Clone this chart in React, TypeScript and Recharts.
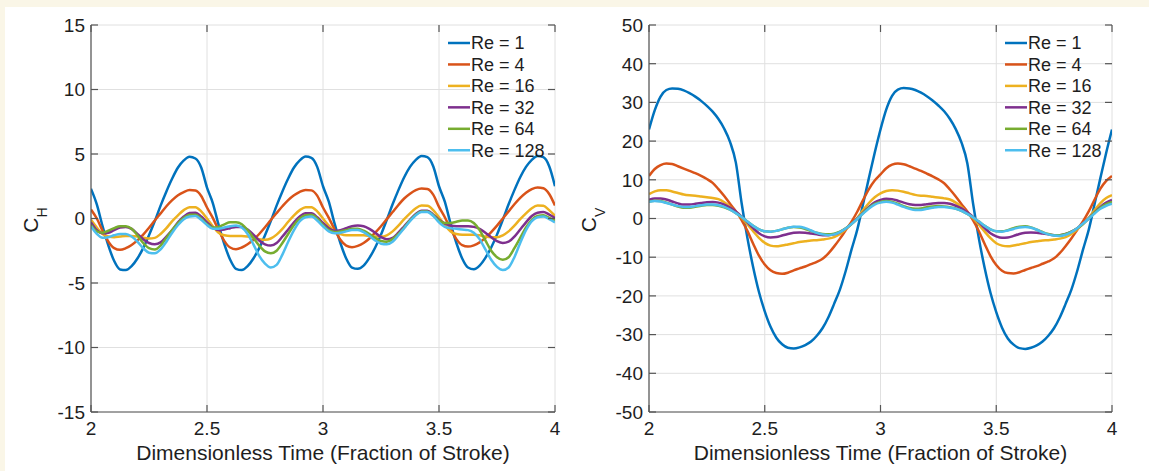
import React from 'react';
import { LineChart, Line, XAxis, YAxis, CartesianGrid } from 'recharts';

// time samples (fraction of stroke), step 0.025
const timeValues = [
  2, 2.025, 2.05, 2.075, 2.1, 2.125, 2.15, 2.175, 2.2, 2.225, 2.25, 2.275, 2.3, 2.325, 2.35, 2.375, 2.4, 2.425, 2.45, 2.475,
  2.5, 2.525, 2.55, 2.575, 2.6, 2.625, 2.65, 2.675, 2.7, 2.725, 2.75, 2.775, 2.8, 2.825, 2.85, 2.875, 2.9, 2.925, 2.95, 2.975,
  3, 3.025, 3.05, 3.075, 3.1, 3.125, 3.15, 3.175, 3.2, 3.225, 3.25, 3.275, 3.3, 3.325, 3.35, 3.375, 3.4, 3.425, 3.45, 3.475,
  3.5, 3.525, 3.55, 3.575, 3.6, 3.625, 3.65, 3.675, 3.7, 3.725, 3.75, 3.775, 3.8, 3.825, 3.85, 3.875, 3.9, 3.925, 3.95, 3.975,
  4,
];

const reLabels = ['Re = 1', 'Re = 4', 'Re = 16', 'Re = 32', 'Re = 64', 'Re = 128'];
const reColors = ['#0072BD', '#D95319', '#EDB120', '#7E2F8E', '#77AC30', '#4DBEEE'];

const timeTicks = [2, 2.5, 3, 3.5, 4];
const chTicks = [-15, -10, -5, 0, 5, 10, 15];
const cvTicks = [-50, -40, -30, -20, -10, 0, 10, 20, 30, 40, 50];

// horizontal force coefficient C_H
const chRe1 = [
  2.3, 1.1, -0.6, -2.1, -3.3, -3.95, -4.0, -3.7, -3.1, -2.3, -1.3, -0.2, 1.0, 2.1, 3.1, 3.95, 4.5, 4.78, 4.65, 3.95,
  2.4, 1.2, -0.5, -2.0, -3.2, -3.9, -4.0, -3.7, -3.1, -2.3, -1.3, -0.2, 1.0, 2.1, 3.1, 3.95, 4.5, 4.8, 4.7, 4.0,
  2.5, 1.3, -0.4, -1.9, -3.1, -3.8, -3.9, -3.65, -3.05, -2.25, -1.25, -0.1, 1.1, 2.2, 3.2, 4.0, 4.55, 4.85, 4.75, 4.05,
  2.5, 1.3, -0.4, -1.9, -3.1, -3.8, -3.93, -3.65, -3.05, -2.25, -1.25, -0.1, 1.1, 2.2, 3.2, 4.0, 4.55, 4.85, 4.75, 4.05,
  2.5,
];
const chRe4 = [
  0.7, 0.0, -0.95, -1.8, -2.3, -2.43, -2.3, -2.05, -1.7, -1.25, -0.72, -0.15, 0.4, 0.95, 1.42, 1.8, 2.05, 2.2, 2.17, 1.75,
  0.85, 0.05, -0.9, -1.75, -2.25, -2.38, -2.25, -2.0, -1.65, -1.2, -0.68, -0.12, 0.42, 0.95, 1.43, 1.8, 2.07, 2.21, 2.18, 1.77,
  0.85, 0.05, -0.85, -1.65, -2.1, -2.22, -2.12, -1.9, -1.55, -1.1, -0.6, -0.05, 0.5, 1.05, 1.55, 1.92, 2.2, 2.32, 2.28, 1.85,
  0.9, 0.1, -0.8, -1.6, -2.07, -2.18, -2.08, -1.85, -1.5, -1.05, -0.55, 0.0, 0.55, 1.1, 1.6, 2.0, 2.28, 2.4, 2.35, 1.9,
  1.0,
];
const chRe16 = [
  -0.1, -0.7, -1.2, -1.4, -1.45, -1.4, -1.35, -1.35, -1.4, -1.5, -1.55, -1.5, -1.2, -0.75, -0.2, 0.25, 0.65, 0.88, 0.88, 0.55,
  0.0, -0.6, -1.1, -1.3, -1.35, -1.35, -1.35, -1.4, -1.5, -1.6, -1.65, -1.55, -1.25, -0.8, -0.25, 0.25, 0.65, 0.88, 0.88, 0.55,
  0.0, -0.55, -1.0, -1.2, -1.3, -1.3, -1.3, -1.3, -1.35, -1.4, -1.4, -1.3, -1.0, -0.55, -0.05, 0.4, 0.8, 1.0, 0.98, 0.65,
  0.1, -0.5, -1.0, -1.2, -1.25, -1.25, -1.25, -1.3, -1.4, -1.45, -1.45, -1.3, -1.0, -0.55, -0.05, 0.4, 0.8, 1.0, 0.98, 0.65,
  0.2,
];
const chRe32 = [
  -0.3, -0.9, -1.15, -1.1, -0.9, -0.7, -0.65, -0.8, -1.2, -1.6, -1.9, -2.0, -1.85, -1.4, -0.9, -0.3, 0.15, 0.42, 0.45, 0.15,
  -0.3, -0.7, -0.9, -0.85, -0.75, -0.65, -0.65, -0.85, -1.25, -1.7, -2.0, -2.1, -1.9, -1.4, -0.85, -0.3, 0.15, 0.4, 0.4, 0.1,
  -0.35, -0.75, -0.95, -0.9, -0.75, -0.6, -0.55, -0.6, -0.8, -1.1, -1.45, -1.6, -1.5, -1.1, -0.6, -0.1, 0.35, 0.6, 0.6, 0.3,
  -0.1, -0.4, -0.55, -0.6, -0.6, -0.6, -0.65, -0.8, -1.1, -1.45, -1.75, -1.9, -1.8, -1.4, -0.85, -0.3, 0.2, 0.45, 0.5, 0.3,
  0.05,
];
const chRe64 = [
  -0.5, -1.0, -1.1, -0.95, -0.75, -0.6, -0.6, -0.8, -1.3, -1.9, -2.3, -2.4, -2.1, -1.5, -0.9, -0.35, 0.05, 0.3, 0.3, 0.0,
  -0.45, -0.7, -0.65, -0.45, -0.3, -0.3, -0.45, -0.9, -1.5, -2.1, -2.55, -2.7, -2.5, -1.9, -1.2, -0.5, 0.0, 0.25, 0.3, 0.0,
  -0.5, -0.9, -1.05, -1.0, -0.9, -0.8, -0.8, -0.95, -1.2, -1.5, -1.75, -1.8, -1.6, -1.2, -0.7, -0.15, 0.3, 0.55, 0.55, 0.25,
  -0.15, -0.35, -0.35, -0.25, -0.15, -0.15, -0.35, -0.9, -1.7, -2.5, -3.0, -3.2, -3.0, -2.3, -1.5, -0.7, -0.1, 0.2, 0.25, 0.05,
  -0.15,
];
const chRe128 = [
  -0.6, -1.2, -1.5, -1.45, -1.3, -1.2, -1.2, -1.4, -1.8, -2.3, -2.65, -2.7, -2.4, -1.8, -1.1, -0.5, -0.05, 0.15, 0.2, -0.1,
  -0.5, -0.8, -0.8, -0.7, -0.6, -0.55, -0.7, -1.2, -2.0, -2.9, -3.5, -3.8, -3.6, -2.8, -1.8, -0.9, -0.2, 0.1, 0.15, -0.15,
  -0.6, -1.0, -1.15, -1.1, -1.0, -0.9, -0.9, -1.05, -1.35, -1.7, -1.95, -2.0, -1.8, -1.3, -0.75, -0.2, 0.25, 0.5, 0.5, 0.2,
  -0.3, -0.65, -0.75, -0.8, -0.85, -0.9, -1.1, -1.6, -2.4, -3.2, -3.75, -4.0, -3.8, -3.0, -1.9, -0.9, -0.2, 0.1, 0.15, -0.05,
  -0.3,
];

// vertical force coefficient C_V
const cvRe1 = [
  23, 28, 31.5, 33.2, 33.6, 33.5, 33.1, 32.4, 31.5, 30.4, 29.1, 27.6, 25.7, 23.2, 19.8, 14.5, 4.0, -5.0, -12.6, -19.0,
  -24.0, -28.0, -30.8, -32.5, -33.4, -33.6, -33.3, -32.7, -31.8, -30.3, -28.3, -25.5, -22.0, -18.3, -13.5, -8.0, -2.8, 3.8, 10.5, 17.0,
  23, 28.2, 31.7, 33.3, 33.7, 33.6, 33.2, 32.5, 31.6, 30.5, 29.2, 27.7, 25.7, 23.1, 19.6, 14.3, 3.8, -5.2, -12.8, -19.2,
  -24.2, -28.2, -31.0, -32.6, -33.5, -33.7, -33.4, -32.8, -31.8, -30.3, -28.3, -25.5, -22.0, -18.3, -13.5, -8.0, -2.8, 3.8, 10.5, 17.0,
  23,
];
const cvRe4 = [
  11.0, 12.8, 13.8, 14.2, 14.1, 13.5, 12.9, 12.3, 11.7, 11.0, 10.2, 9.2, 7.6, 5.8, 3.8, 1.9, -0.4, -3.2, -6.5, -9.6,
  -11.9, -13.4, -14.1, -14.3, -14.0, -13.4, -12.9, -12.4, -11.8, -11.2, -10.4, -9.0, -7.2, -5.2, -3.0, -0.8, 1.8, 4.8, 7.6, 9.8,
  11.4, 13.0, 13.9, 14.2, 14.0, 13.5, 12.9, 12.3, 11.6, 10.9, 10.1, 9.1, 7.5, 5.7, 3.7, 1.8, -0.5, -3.3, -6.6, -9.7,
  -12.0, -13.5, -14.1, -14.2, -13.9, -13.3, -12.8, -12.3, -11.7, -11.1, -10.3, -8.9, -7.1, -5.1, -2.9, -0.7, 1.9, 4.9, 7.7, 9.7,
  11.0,
];
const cvRe16 = [
  6.3, 7.0, 7.3, 7.3, 7.0, 6.6, 6.2, 6.0, 5.9, 5.7, 5.5, 5.3, 5.0, 4.2, 3.0, 1.6, 0.2, -1.5, -3.3, -5.0,
  -6.3, -7.0, -7.2, -7.0, -6.7, -6.4, -6.1, -5.9, -5.7, -5.6, -5.4, -5.2, -4.8, -4.0, -2.8, -1.4, 0.2, 2.2, 4.0, 5.5,
  6.5, 7.1, 7.3, 7.2, 6.9, 6.5, 6.1, 5.9, 5.8, 5.6, 5.4, 5.2, 4.9, 4.1, 2.9, 1.5, 0.1, -1.6, -3.4, -5.1,
  -6.4, -7.0, -7.2, -7.0, -6.7, -6.4, -6.1, -5.9, -5.7, -5.6, -5.4, -5.2, -4.8, -4.0, -2.8, -1.4, 0.2, 2.2, 4.0, 5.3,
  6.0,
];
const cvRe32 = [
  4.8, 5.2, 5.2, 4.9, 4.4, 3.9, 3.6, 3.6, 3.8, 4.0, 4.2, 4.25, 4.1, 3.6, 2.8, 1.8, 0.5, -1.0, -2.5, -3.8,
  -4.6, -4.9, -4.8, -4.4, -4.0, -3.7, -3.6, -3.7, -3.9, -4.1, -4.3, -4.3, -4.1, -3.5, -2.6, -1.4, 0.0, 1.5, 3.0, 4.2,
  4.8, 5.1, 5.0, 4.6, 4.1, 3.7, 3.5, 3.5, 3.7, 3.9, 4.0, 4.0, 3.8, 3.3, 2.6, 1.6, 0.4, -1.0, -2.5, -3.8,
  -4.6, -5.0, -4.9, -4.5, -4.0, -3.7, -3.6, -3.7, -3.9, -4.1, -4.3, -4.3, -4.0, -3.4, -2.5, -1.3, 0.1, 1.6, 3.0, 4.1,
  4.8,
];
const cvRe64 = [
  4.4, 4.6, 4.5, 4.1, 3.6, 3.1, 2.8, 2.8, 3.0, 3.3, 3.5, 3.5, 3.3, 2.9, 2.3, 1.4, 0.4, -0.8, -1.9, -2.8,
  -3.3, -3.4, -3.2, -2.8, -2.4, -2.2, -2.3, -2.7, -3.2, -3.7, -4.0, -4.1, -3.9, -3.4, -2.5, -1.4, -0.1, 1.4, 2.8, 3.8,
  4.3, 4.5, 4.3, 3.8, 3.2, 2.7, 2.5, 2.6, 2.9, 3.1, 3.2, 3.1, 2.9, 2.6, 2.0, 1.2, 0.3, -0.8, -1.9, -2.8,
  -3.3, -3.3, -3.0, -2.5, -2.1, -2.0, -2.3, -2.9, -3.5, -4.0, -4.3, -4.3, -4.0, -3.4, -2.5, -1.4, 0.0, 1.5, 2.8, 3.7,
  4.3,
];
const cvRe128 = [
  4.3, 4.5, 4.4, 4.0, 3.6, 3.2, 3.0, 3.0, 3.2, 3.4, 3.6, 3.6, 3.4, 3.0, 2.3, 1.4, 0.4, -0.8, -1.9, -2.8,
  -3.3, -3.4, -3.2, -2.8, -2.4, -2.1, -2.1, -2.5, -3.1, -3.7, -4.1, -4.3, -4.1, -3.5, -2.6, -1.4, -0.1, 1.3, 2.6, 3.6,
  4.1, 4.3, 4.1, 3.6, 3.0, 2.5, 2.2, 2.2, 2.5, 2.8, 3.0, 3.0, 2.8, 2.5, 2.0, 1.2, 0.3, -0.8, -1.9, -2.8,
  -3.3, -3.4, -3.1, -2.7, -2.3, -2.2, -2.4, -2.9, -3.6, -4.1, -4.4, -4.5, -4.2, -3.5, -2.5, -1.3, 0.0, 1.3, 2.5, 3.3,
  3.8,
];

const chSeries = [chRe1, chRe4, chRe16, chRe32, chRe64, chRe128];
const cvSeries = [cvRe1, cvRe4, cvRe16, cvRe32, cvRe64, cvRe128];

const buildRows = (series: number[][]) =>
  timeValues.map((t, i) => {
    const row: Record<string, number> = { t };
    series.forEach((s, k) => {
      row['s' + k] = s[i];
    });
    return row;
  });

const FONT = '"Liberation Sans", Arial, Helvetica, sans-serif';
const AXIS = '#555555';
const TEXT = '#1e1e1e';
const TICK_LEN = 7;
const H = 471;
const PLOT_TOP = 25;
const PLOT_BOTTOM = 412;
const Y_AXIS_W = 60;
const X_AXIS_H = 40;

type PanelProps = {
  offset: number;
  width: number;
  plotLeft: number;
  plotRight: number;
  series: number[][];
  domain: [number, number];
  ticks: number[];
};

function Panel({ offset, width, plotLeft, plotRight, series, domain, ticks }: PanelProps) {
  const rows = buildRows(series);

  const xTick = (p: any) => {
    const x = p.x;
    return (
      <g>
        <line x1={x} x2={x} y1={PLOT_BOTTOM} y2={PLOT_BOTTOM - TICK_LEN} stroke={AXIS} strokeWidth={1.2} />
        <line x1={x} x2={x} y1={PLOT_TOP} y2={PLOT_TOP + TICK_LEN} stroke={AXIS} strokeWidth={1.2} />
        <text x={x} y={435} textAnchor="middle" fontSize={19} fill={TEXT} fontFamily={FONT}>
          {String(p.payload.value)}
        </text>
      </g>
    );
  };

  const yTick = (p: any) => {
    const y = p.y;
    return (
      <g>
        <line x1={plotLeft} x2={plotLeft + TICK_LEN} y1={y} y2={y} stroke={AXIS} strokeWidth={1.2} />
        <line x1={plotRight} x2={plotRight - TICK_LEN} y1={y} y2={y} stroke={AXIS} strokeWidth={1.2} />
        <text x={plotLeft - 6} y={y} dy="0.36em" textAnchor="end" fontSize={19} fill={TEXT} fontFamily={FONT}>
          {String(p.payload.value)}
        </text>
      </g>
    );
  };

  return (
    <div style={{ position: 'absolute', left: offset, top: 0 }}>
      <LineChart
        width={width}
        height={H}
        data={rows}
        margin={{
          top: PLOT_TOP,
          right: width - plotRight,
          bottom: H - PLOT_BOTTOM - X_AXIS_H,
          left: plotLeft - Y_AXIS_W,
        }}
      >
        <CartesianGrid stroke="#e0e0e0" strokeWidth={1} />
        <XAxis
          dataKey="t"
          type="number"
          domain={[2, 4]}
          ticks={timeTicks}
          interval={0}
          height={X_AXIS_H}
          allowDataOverflow
          axisLine={{ stroke: AXIS, strokeWidth: 1.2 }}
          tickLine={false}
          tick={xTick}
        />
        <YAxis
          type="number"
          domain={domain}
          ticks={ticks}
          interval={0}
          width={Y_AXIS_W}
          allowDataOverflow
          axisLine={{ stroke: AXIS, strokeWidth: 1.2 }}
          tickLine={false}
          tick={yTick}
        />
        <XAxis
          xAxisId="top"
          orientation="top"
          type="number"
          domain={[2, 4]}
          height={0}
          tick={false}
          tickLine={false}
          axisLine={{ stroke: AXIS, strokeWidth: 1.2 }}
        />
        <YAxis
          yAxisId="right"
          orientation="right"
          type="number"
          domain={domain}
          width={0}
          tick={false}
          tickLine={false}
          axisLine={{ stroke: AXIS, strokeWidth: 1.2 }}
        />
        {series.map((_, k) => (
          <Line
            key={k}
            dataKey={'s' + k}
            name={reLabels[k]}
            type="monotone"
            stroke={reColors[k]}
            strokeWidth={2.5}
            dot={false}
            activeDot={false}
            isAnimationActive={false}
          />
        ))}
      </LineChart>
    </div>
  );
}

function LegendBlock({ lineX, top }: { lineX: number; top: number }) {
  return (
    <g>
      {reLabels.map((label, k) => {
        const y = top + k * 21.45;
        return (
          <g key={label}>
            <line x1={lineX} x2={lineX + 22} y1={y} y2={y} stroke={reColors[k]} strokeWidth={2.5} />
            <text x={lineX + 23} y={y} dy="0.36em" fontSize={18} fill={TEXT} fontFamily={FONT}>
              {label}
            </text>
          </g>
        );
      })}
    </g>
  );
}

function YTitle({ x, y, sub }: { x: number; y: number; sub: string }) {
  return (
    <text transform="rotate(-90)" x={-y} y={x} textAnchor="middle" fontSize={21} fill={TEXT} fontFamily={FONT}>
      C
      <tspan fontSize={14} dy={9}>
        {sub}
      </tspan>
    </text>
  );
}

export default function App() {
  return (
    <div
      style={{
        position: 'absolute',
        left: 0,
        top: 0,
        width: 1149,
        height: H,
        background: '#faf6e7',
        fontFamily: FONT,
      }}
    >
      <div style={{ position: 'absolute', left: 5, top: 7, right: 0, bottom: 0, background: '#ffffff' }} />
      <Panel offset={0} width={575} plotLeft={91} plotRight={555} series={chSeries} domain={[-15, 15]} ticks={chTicks} />
      <Panel offset={575} width={574} plotLeft={74} plotRight={537} series={cvSeries} domain={[-50, 50]} ticks={cvTicks} />
      <svg
        width={1149}
        height={H}
        style={{ position: 'absolute', left: 0, top: 0, pointerEvents: 'none' }}
      >
        <LegendBlock lineX={448} top={43} />
        <LegendBlock lineX={1005} top={43} />
        <YTitle x={38} y={220} sub="H" />
        <YTitle x={596} y={220} sub="V" />
        <text x={323} y={460} textAnchor="middle" fontSize={21} fill={TEXT} fontFamily={FONT}>
          Dimensionless Time (Fraction of Stroke)
        </text>
        <text x={880.5} y={460} textAnchor="middle" fontSize={21} fill={TEXT} fontFamily={FONT}>
          Dimensionless Time (Fraction of Stroke)
        </text>
      </svg>
    </div>
  );
}
